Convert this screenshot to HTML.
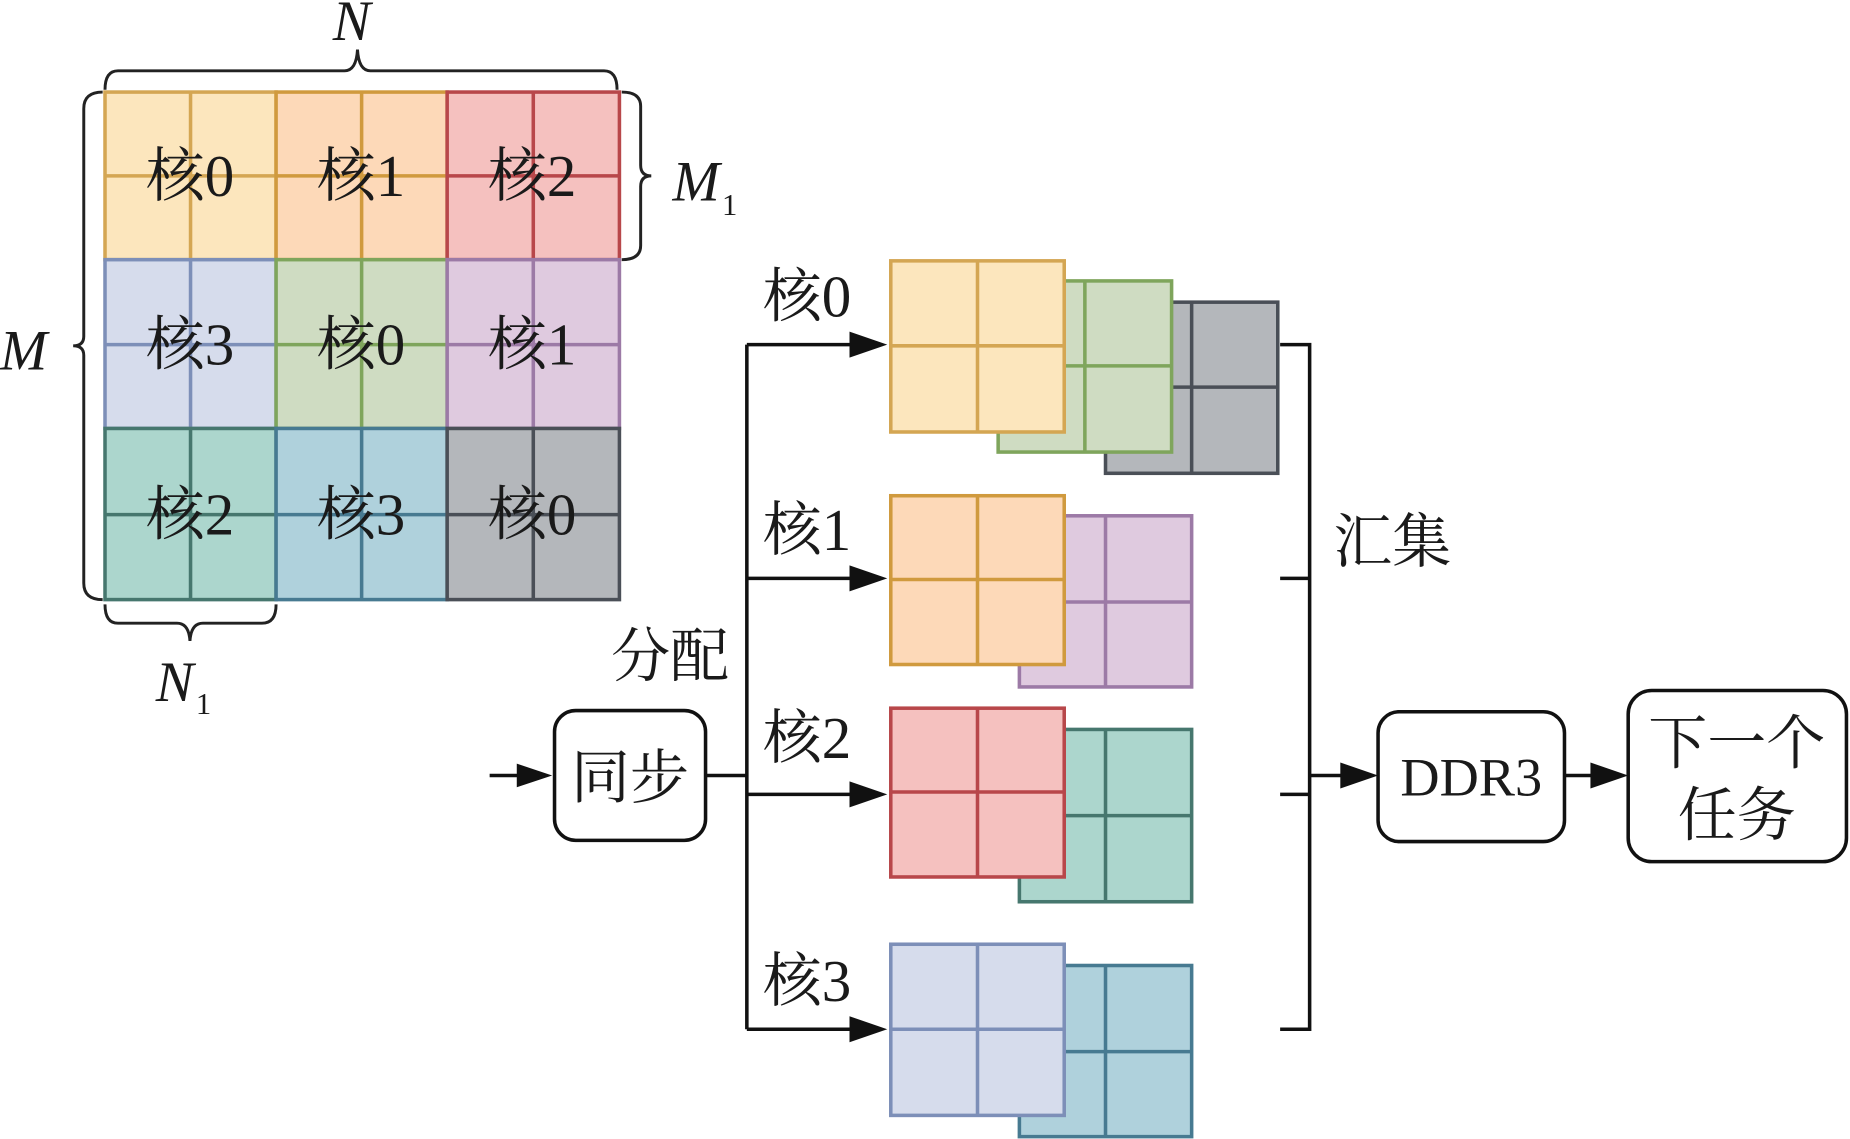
<!DOCTYPE html>
<html><head><meta charset="utf-8"><style>html,body{margin:0;padding:0;background:#fff}svg{display:block}
text{font-family:"Liberation Serif","Noto Serif CJK SC",serif}</style></head>
<body>
<svg width="1850" height="1139" viewBox="0 0 1568 965" preserveAspectRatio="none" xmlns="http://www.w3.org/2000/svg">
<g stroke-width="3">
<g>
<rect x="89" y="78" width="145" height="142" fill="#fce6bd" stroke="#d4a653"/>
<path d="M161.5 78V220M89 149H234" stroke="#d4a653"/>
<rect x="234" y="78" width="145" height="142" fill="#fdd9b8" stroke="#d09a3e"/>
<path d="M306.5 78V220M234 149H379" stroke="#d09a3e"/>
<rect x="379" y="78" width="146" height="142" fill="#f5c1bf" stroke="#b8474a"/>
<path d="M452 78V220M379 149H525" stroke="#b8474a"/>
<rect x="89" y="220" width="145" height="143" fill="#d6dcec" stroke="#7d8fb8"/>
<path d="M161.5 220V363M89 292H234" stroke="#7d8fb8"/>
<rect x="234" y="220" width="145" height="143" fill="#cfdcc2" stroke="#7fa55c"/>
<path d="M306.5 220V363M234 292H379" stroke="#7fa55c"/>
<rect x="379" y="220" width="146" height="143" fill="#dfcadf" stroke="#9c7aa6"/>
<path d="M452 220V363M379 292H525" stroke="#9c7aa6"/>
<rect x="89" y="363" width="145" height="145" fill="#acd6cd" stroke="#46776e"/>
<path d="M161.5 363V508M89 436H234" stroke="#46776e"/>
<rect x="234" y="363" width="145" height="145" fill="#afd1dc" stroke="#477a91"/>
<path d="M306.5 363V508M234 436H379" stroke="#477a91"/>
<rect x="379" y="363" width="146" height="145" fill="#b4b7bb" stroke="#4a4f57"/>
<path d="M452 363V508M379 436H525" stroke="#4a4f57"/>
</g>
<g>
<rect x="937" y="256" width="146" height="145" fill="#b4b7bb" stroke="#4a4f57"/><path d="M1010 256V401M937 328H1083" stroke="#4a4f57"/>
<rect x="846" y="238" width="147" height="145" fill="#cfdcc2" stroke="#7fa55c"/><path d="M919.5 238V383M846 310H993" stroke="#7fa55c"/>
<rect x="755" y="221" width="147" height="145" fill="#fce6bd" stroke="#d4a653"/><path d="M828.5 221V366M755 293H902" stroke="#d4a653"/>
<rect x="864" y="437" width="146" height="145" fill="#dfcadf" stroke="#9c7aa6"/><path d="M937 437V582M864 510H1010" stroke="#9c7aa6"/>
<rect x="755" y="420" width="147" height="143" fill="#fdd9b8" stroke="#d09a3e"/><path d="M828.5 420V563M755 491H902" stroke="#d09a3e"/>
<rect x="864" y="618" width="146" height="146" fill="#acd6cd" stroke="#46776e"/><path d="M937 618V764M864 691H1010" stroke="#46776e"/>
<rect x="755" y="600" width="147" height="143" fill="#f5c1bf" stroke="#b8474a"/><path d="M828.5 600V743M755 671H902" stroke="#b8474a"/>
<rect x="864" y="818" width="146" height="145" fill="#afd1dc" stroke="#477a91"/><path d="M937 818V963M864 891H1010" stroke="#477a91"/>
<rect x="755" y="800" width="147" height="145" fill="#d6dcec" stroke="#7d8fb8"/><path d="M828.5 800V945M755 872H902" stroke="#7d8fb8"/>
</g>
<g fill="none" stroke="#222" stroke-width="2.5">
<path d="M89 76 Q89 60 100 60 L292 60 Q302 60 303 42 Q304 60 314 60 L512 60 Q523 60 523 76"/>
<path d="M527 78 Q543 78 543 90 L543 140 Q543 149 552 149 Q543 149 543 158 L543 208 Q543 220 527 220"/>
<path d="M87 78 Q71 78 71 92 L71 285 Q71 293 62 293 Q71 293 71 301 L71 494 Q71 508 87 508"/>
<path d="M89 512 Q89 528 100 528 L150 528 Q160 528 161 543 Q162 528 172 528 L222 528 Q234 528 234 512"/>
</g>
<g stroke="#111" stroke-width="3" fill="none">
<path d="M633 292V872M598 657H633"/>
<path d="M633 292H722M633 490H722M633 673H722M633 872H722M415 657H440M1110 657H1138M1326 657H1350"/>
<path d="M1085 292H1110V872H1085M1085 490H1110M1085 673H1110"/>
</g>
<g fill="#111" stroke="none">
<path d="M720 281L752 292L720 303Z"/><path d="M720 479L752 490L720 501Z"/><path d="M720 662L752 673L720 684Z"/><path d="M720 861L752 872L720 883Z"/>
<path d="M438 647L468 657L438 667Z"/><path d="M1136 646L1168 657L1136 668Z"/><path d="M1348 646L1380 657L1348 668Z"/>
</g>
<rect x="470" y="602" width="128" height="110" rx="18" fill="#fff" stroke="#111"/>
<rect x="1168" y="603" width="158" height="110" rx="18" fill="#fff" stroke="#111"/>
<rect x="1380" y="585" width="185" height="145" rx="20" fill="#fff" stroke="#111"/>
</g>
<g fill="#1a1a1a" font-size="50" text-anchor="middle">
<text x="161" y="166">核0</text><text x="306" y="166">核1</text><text x="451" y="166">核2</text>
<text x="161" y="309">核3</text><text x="306" y="309">核0</text><text x="451" y="309">核1</text>
<text x="161" y="453">核2</text><text x="306" y="453">核3</text><text x="451" y="453">核0</text>
<text x="684" y="268">核0</text><text x="684" y="466">核1</text><text x="684" y="642">核2</text><text x="684" y="848">核3</text>
<text x="568" y="573">分配</text><text x="1180" y="476">汇集</text>
<text x="534" y="676">同步</text>
<text x="1247" y="674" font-size="46">DDR3</text>
<text x="1472" y="647">下一个</text><text x="1472" y="708">任务</text>
</g>
<g fill="#1a1a1a" font-style="italic" font-size="48">
<text x="282" y="34">N</text>
<text x="570" y="170">M</text><text x="612" y="182" font-size="26" font-style="normal">1</text>
<text x="0" y="313">M</text>
<text x="132" y="594">N</text><text x="166" y="605" font-size="26" font-style="normal">1</text>
</g>
</svg>
</body></html>
